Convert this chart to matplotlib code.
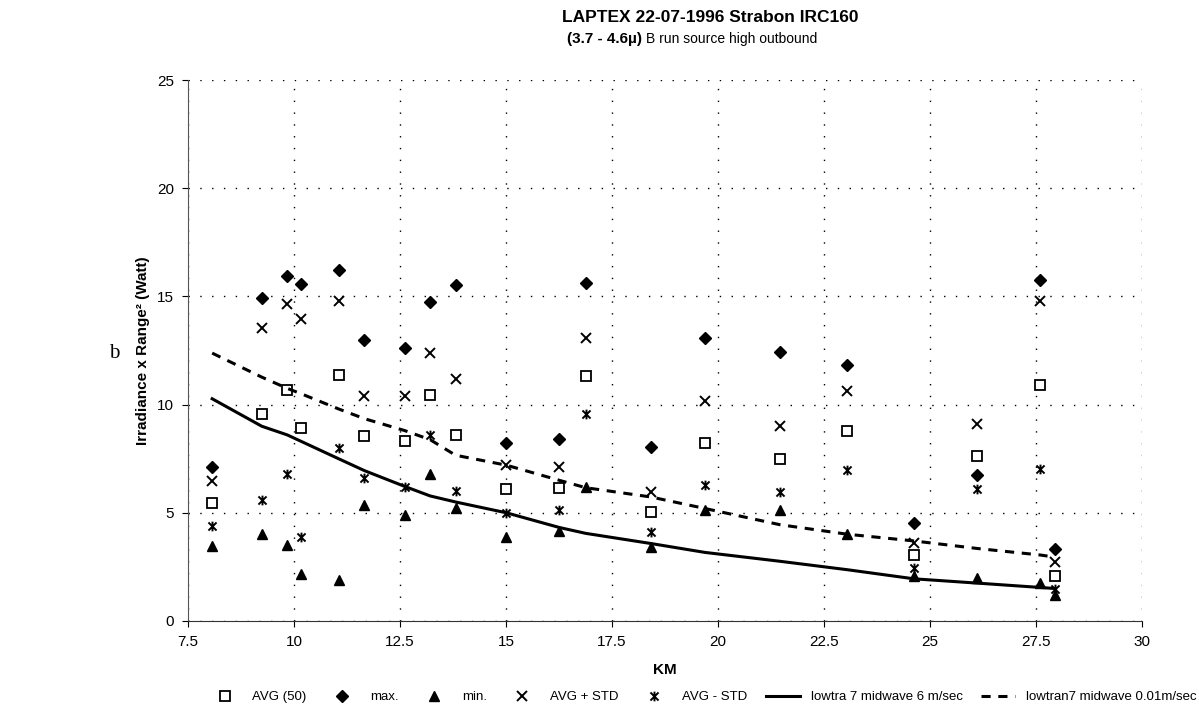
import matplotlib
matplotlib.use("Agg")
import matplotlib.pyplot as plt
from matplotlib.path import Path

plt.rcParams['font.family'] = ['Liberation Sans', 'DejaVu Sans']

# distance (km) of each measurement
km = [8.07, 9.24, 9.84, 10.17, 11.05, 11.66, 12.61, 13.21, 13.81, 15.01,
      16.26, 16.88, 18.42, 19.69, 21.46, 23.05, 24.62, 26.12, 27.6, 27.95]
avg = [5.47, 9.56, 10.69, 8.93, 11.39, 8.53, 8.32, 10.46, 8.61, 6.09,
       6.13, 11.33, 5.04, 8.22, 7.49, 8.8, 3.04, 7.63, 10.9, 2.08]
vmax = [7.12, 14.93, 15.96, 15.57, 16.22, 12.99, 12.61, 14.73, 15.53, 8.24,
        8.39, 15.64, 8.04, 13.09, 12.42, 11.84, 4.51, 6.73, 15.77, 3.35]
vmin = [3.46, 4.0, 3.5, 2.17, 1.89, 5.35, 4.89, 6.81, 5.2, 3.89,
        4.15, 6.2, 3.43, 5.15, 5.12, 4.0, 2.08, 1.97, 1.74, 1.2]
avg_plus = [6.47, 13.55, 14.65, 13.96, 14.78, 10.39, 10.42, 12.39, 11.19, 7.23,
            7.12, 13.09, 5.94, 10.16, 9.01, 10.61, 3.61, 9.12, 14.81, 2.74]
avg_minus = [4.40, 5.58, 6.81, 3.89, 7.99, 6.63, 6.2, 8.58, 6.01, 5.0,
             5.12, 9.55, 4.12, 6.27, 5.94, 6.97, 2.43, 6.12, 7.03, 1.46]
lowtran_6 = [10.27, 9.0, 8.6, 8.3, 7.5, 6.95, 6.22, 5.78, 5.5, 5.0,
             4.32, 4.05, 3.58, 3.17, 2.76, 2.37, 1.95, 1.75, 1.55, 1.5]
lowtran_001 = [12.38, 11.27, 10.75, 10.5, 9.8, 9.35, 8.8, 8.38, 7.66, 7.2,
               6.5, 6.16, 5.73, 5.2, 4.45, 4.01, 3.7, 3.35, 3.05, 2.95]

# excel style star: an x with a vertical stroke
star = Path([(-1, -1), (1, 1), (-1, 1), (1, -1), (0, -1.2), (0, 1.2)],
            [Path.MOVETO, Path.LINETO, Path.MOVETO, Path.LINETO, Path.MOVETO, Path.LINETO])

W, H = 1199, 717
fig = plt.figure(figsize=(W / 100, H / 100), dpi=100)
ax = fig.add_axes([188 / W, 1 - 621 / H, (1142 - 188) / W, (621 - 80) / H])

ax.plot(km, avg, linestyle='none', marker='s', markersize=7, markerfacecolor='white',
        markeredgecolor='black', markeredgewidth=1.3, label='AVG (50)')
ax.plot(km, vmax, linestyle='none', marker='D', markersize=6.5, color='black', label='max.')
ax.plot(km, vmin, linestyle='none', marker='^', markersize=7.5, color='black', label='min.')
ax.plot(km, avg_plus, linestyle='none', marker='x', markersize=7.5, color='black',
        markeredgewidth=1.4, label='AVG + STD')
ax.plot(km, avg_minus, linestyle='none', marker=star, markersize=7, color='black',
        markeredgewidth=1.4, label='AVG - STD')
ax.plot(km, lowtran_6, color='black', linewidth=2.2, label='lowtra 7 midwave 6 m/sec')
ax.plot(km, lowtran_001, color='black', linewidth=2.2, linestyle=(0, (3, 2.5)),
        label='lowtran7 midwave 0.01m/sec')

ax.set_xlim(7.5, 30)
ax.set_ylim(0, 25)
ax.set_xticks([7.5, 10, 12.5, 15, 17.5, 20, 22.5, 25, 27.5, 30])
ax.set_xticklabels(['7.5', '10', '12.5', '15', '17.5', '20', '22.5', '25', '27.5', '30'])
ax.set_yticks([0, 5, 10, 15, 20, 25])
ax.tick_params(direction='out', length=4, width=0.8, labelsize=11, pad=6)
ax.grid(True, color='black', linestyle=(0, (1, 7.5)), linewidth=1.0)
ax.spines['top'].set_visible(False)
ax.spines['right'].set_visible(False)
ax.spines['left'].set_color('#555555')
ax.spines['bottom'].set_color('#333333')

ax.set_xlabel('KM', fontsize=11, fontweight='bold')
ax.xaxis.set_label_coords(0.5, -(663 - 621) / (621 - 80))
ax.set_ylabel('Irradiance x Range² (Watt)', fontsize=11, fontweight='bold')
ax.yaxis.set_label_coords(-(188 - 150) / (1142 - 188), 0.5)

fig.text(710 / W, 1 - 18 / H, 'LAPTEX 22-07-1996 Strabon IRC160', ha='center', va='center',
         fontsize=12.5, fontweight='bold')
fig.text(642 / W, 1 - 39 / H, '(3.7 - 4.6µ)', ha='right', va='center', fontsize=11,
         fontweight='bold')
fig.text(646 / W, 1 - 39 / H, 'B run source high outbound', ha='left', va='center',
         fontsize=10)
fig.text(114 / W, 1 - 353 / H, 'b', ha='center', va='center', fontsize=15,
         family='Liberation Serif')

fig.legend(loc='center', bbox_to_anchor=(702 / W, 1 - 697 / H), ncol=7, frameon=False,
           fontsize=9.5, handlelength=2.6, handletextpad=0.8, columnspacing=1.4)

fig.savefig('out.png', dpi=100)
